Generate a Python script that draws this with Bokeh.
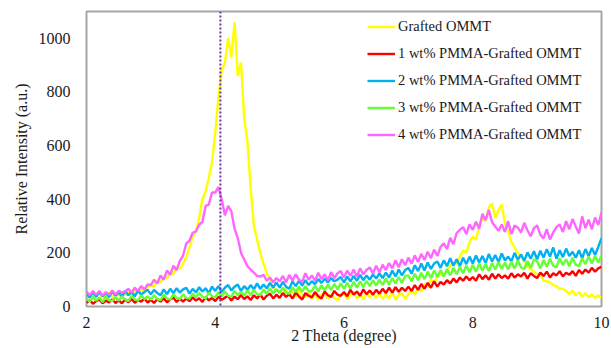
from bokeh.plotting import figure
from bokeh.models import Span, FixedTicker, Range1d, Legend, LegendItem
from bokeh.embed import file_html
from bokeh.resources import INLINE

two_theta = [
    2.00, 2.05, 2.10, 2.15, 2.20, 2.25, 2.30, 2.35, 2.40, 2.45,
    2.50, 2.55, 2.60, 2.65, 2.70, 2.75, 2.80, 2.85, 2.90, 2.95,
    3.00, 3.05, 3.10, 3.15, 3.20, 3.25, 3.30, 3.35, 3.40, 3.45,
    3.50, 3.55, 3.60, 3.65, 3.70, 3.75, 3.80, 3.85, 3.90, 3.95,
    4.00, 4.05, 4.10, 4.15, 4.20, 4.25, 4.30, 4.35, 4.40, 4.45,
    4.50, 4.55, 4.60, 4.65, 4.70, 4.75, 4.80, 4.85, 4.90, 4.95,
    5.00, 5.05, 5.10, 5.15, 5.20, 5.25, 5.30, 5.35, 5.40, 5.45,
    5.50, 5.55, 5.60, 5.65, 5.70, 5.75, 5.80, 5.85, 5.90, 5.95,
    6.00, 6.05, 6.10, 6.15, 6.20, 6.25, 6.30, 6.35, 6.40, 6.45,
    6.50, 6.55, 6.60, 6.65, 6.70, 6.75, 6.80, 6.85, 6.90, 6.95,
    7.00, 7.05, 7.10, 7.15, 7.20, 7.25, 7.30, 7.35, 7.40, 7.45,
    7.50, 7.55, 7.60, 7.65, 7.70, 7.75, 7.80, 7.85, 7.90, 7.95,
    8.00, 8.05, 8.10, 8.15, 8.20, 8.25, 8.30, 8.35, 8.40, 8.45,
    8.50, 8.55, 8.60, 8.65, 8.70, 8.75, 8.80, 8.85, 8.90, 8.95,
    9.00, 9.05, 9.10, 9.15, 9.20, 9.25, 9.30, 9.35, 9.40, 9.45,
    9.50, 9.55, 9.60, 9.65, 9.70, 9.75, 9.80, 9.85, 9.90, 9.95,
    10.00,
]

grafted_ommt = [
    48, 34, 50, 38, 53, 33, 47, 51, 36, 49,
    40, 53, 42, 56, 45, 61, 50, 66, 55, 72,
    80, 75, 95, 90, 110, 105, 125, 120, 145, 140,
    160, 185, 220, 260, 280, 330, 400, 430, 480, 540,
    650, 780, 880, 910, 1000, 930, 1060, 860, 910, 700,
    615, 440, 300, 250, 200, 160, 125, 95, 72, 60,
    58, 44, 66, 40, 56, 36, 62, 42, 34, 54,
    30, 48, 26, 44, 52, 29, 46, 32, 24, 44,
    48, 28, 42, 54, 31, 46, 26, 50, 34, 48,
    32, 52, 27, 46, 31, 54, 25, 44, 49, 30,
    46, 58, 44, 68, 56, 84, 72, 102, 86, 114,
    120, 115, 135, 150, 165, 160, 185, 210, 200, 240,
    260, 250, 300, 330, 320, 370, 385, 330, 360, 380,
    310, 280, 240, 220, 200, 185, 170, 150, 140, 130,
    118, 124, 96, 94, 90, 80, 76, 66, 66, 58,
    46, 60, 42, 54, 36, 50, 34, 46, 32, 42,
    32,
]

pmma_1wt = [
    14, 24, 10, 20, 26, 12, 22, 15, 27, 13,
    23, 12, 26, 16, 28, 14, 24, 18, 30, 15,
    25, 13, 28, 18, 31, 16, 26, 33, 17, 29,
    18, 30, 20, 34, 22, 31, 17, 35, 23, 32,
    20, 36, 25, 33, 40, 22, 37, 27, 43, 28,
    38, 24, 42, 30, 46, 26, 40, 48, 30, 44,
    32, 50, 36, 46, 30, 52, 38, 26, 50, 40,
    34, 54, 38, 30, 56, 42, 36, 58, 44, 40,
    54, 38, 62, 44, 56, 40, 64, 46, 60, 44,
    62, 48, 66, 50, 70, 52, 72, 55, 70, 58,
    74, 58, 80, 62, 84, 66, 88, 70, 94, 74,
    92, 82, 98, 86, 104, 90, 108, 96, 112, 98,
    110, 96, 120, 102, 116, 100, 122, 104, 120, 106,
    116, 104, 124, 108, 120, 112, 126, 104, 124, 114,
    106, 126, 114, 130, 108, 124, 116, 132, 112, 126,
    118, 132, 114, 136, 122, 138, 126, 144, 130, 142,
    148,
]

pmma_2wt = [
    48, 34, 52, 36, 54, 38, 50, 35, 56, 40,
    52, 37, 58, 42, 55, 38, 60, 44, 54, 62,
    45, 62, 50, 42, 64, 46, 66, 50, 68, 52,
    64, 70, 48, 66, 52, 72, 56, 68, 50, 74,
    58, 76, 54, 70, 80, 60, 74, 82, 58, 76,
    62, 80, 64, 86, 66, 82, 68, 88, 70, 90,
    70, 92, 74, 66, 94, 76, 96, 78, 98, 80,
    94, 84, 102, 88, 104, 90, 106, 94, 100, 110,
    90, 112, 94, 114, 96, 118, 98, 116, 100, 120,
    104, 124, 106, 126, 108, 134, 112, 138, 116, 136,
    144, 122, 154, 132, 160, 134, 164, 140, 160, 168,
    144, 172, 150, 180, 152, 176, 150, 182, 158, 186,
    160, 190, 164, 188, 162, 196, 168, 192, 166, 198,
    172, 186, 168, 200, 174, 194, 170, 202, 178, 206,
    176, 208, 182, 214, 186, 220, 178, 210, 184, 216,
    188, 204, 182, 210, 180, 214, 188, 218, 192, 222,
    255,
]

pmma_3wt = [
    30, 18, 36, 22, 34, 16, 38, 24, 20, 35,
    22, 38, 26, 20, 40, 27, 22, 42, 28, 38,
    26, 42, 28, 24, 44, 30, 26, 46, 32, 28,
    46, 32, 30, 48, 34, 50, 36, 30, 52, 38,
    34, 54, 38, 56, 40, 36, 58, 42, 55, 40,
    60, 42, 62, 46, 42, 64, 46, 68, 48, 64,
    50, 70, 52, 48, 72, 54, 74, 55, 76, 56,
    58, 78, 56, 80, 60, 82, 62, 84, 64, 86,
    66, 88, 68, 92, 70, 94, 72, 96, 76, 98,
    78, 100, 80, 104, 82, 106, 86, 110, 88, 114,
    116, 94, 122, 98, 126, 102, 130, 106, 134, 110,
    136, 112, 140, 116, 144, 120, 148, 124, 152, 128,
    156, 130, 160, 134, 158, 132, 162, 138, 166, 140,
    164, 138, 168, 142, 172, 146, 140, 170, 144, 176,
    168, 142, 174, 148, 178, 152, 146, 180, 154, 176,
    150, 182, 156, 150, 180, 158, 186, 160, 188, 164,
    190,
]

pmma_4wt = [
    56, 42, 58, 44, 58, 40, 54, 43, 60, 45,
    58, 52, 56, 66, 52, 70, 58, 76, 64, 82,
    80, 100, 86, 116, 100, 134, 118, 152, 136, 170,
    190, 235, 245, 275, 280, 305, 315, 375, 380, 425,
    425, 445, 400, 340, 375, 355, 290, 255, 200, 175,
    150, 138, 126, 114, 112, 118, 96, 108, 90, 106,
    94, 114, 90, 118, 96, 120, 100, 92, 124, 100,
    116, 96, 126, 102, 120, 98, 128, 106, 124, 132,
    108, 134, 114, 138, 112, 142, 120, 136, 146, 122,
    152, 128, 156, 136, 162, 142, 172, 146, 176, 154,
    182, 160, 190, 166, 196, 174, 204, 180, 212, 188,
    222, 236, 214, 256, 232, 274, 286, 296, 270, 306,
    286, 316, 290, 346, 322, 360, 314, 298, 282, 306,
    278, 318, 270, 302, 294, 276, 312, 284, 262, 292,
    302, 268, 254, 288, 250, 276, 296, 306, 278, 318,
    288, 326, 298, 272, 336, 292, 324, 288, 332, 304,
    350,
]

series_names = [
    "Grafted OMMT",
    "1 wt% PMMA-Grafted OMMT",
    "2 wt% PMMA-Grafted OMMT",
    "3 wt% PMMA-Grafted OMMT",
    "4 wt% PMMA-Grafted OMMT",
]
series_values = [grafted_ommt, pmma_1wt, pmma_2wt, pmma_3wt, pmma_4wt]
series_colors = ["#FFFF00", "#FF0000", "#00B0F0", "#66FF33", "#FF66FF"]

x_ticks = [2, 4, 6, 8, 10]
y_ticks = [0, 200, 400, 600, 800, 1000]
marker_position = 4.08

FONT = "Liberation Serif"

p = figure(
    width=611, height=348, output_backend="svg", toolbar_location=None,
    x_range=Range1d(2, 10), y_range=Range1d(0, 1100),
    min_border_left=86, min_border_right=10, min_border_top=11, min_border_bottom=42,
    background_fill_color="white", border_fill_color="white",
)
p.xgrid.visible = False
p.ygrid.visible = False
p.outline_line_color = "#A6A6A6"
p.outline_line_width = 2

for ax in (p.xaxis[0], p.yaxis[0]):
    ax.axis_line_color = None
    ax.major_tick_line_color = None
    ax.minor_tick_line_color = None
    ax.major_tick_in = 0
    ax.major_tick_out = 0
    ax.major_label_text_font = FONT
    ax.major_label_text_font_size = "16px"
    ax.major_label_text_color = "#1a1a1a"
    ax.axis_label_text_font = FONT
    ax.axis_label_text_font_size = "16px"
    ax.axis_label_text_font_style = "normal"
    ax.axis_label_text_color = "#1a1a1a"

p.xaxis.ticker = FixedTicker(ticks=x_ticks)
p.yaxis.ticker = FixedTicker(ticks=y_ticks)
p.xaxis.major_label_standoff = 10
p.yaxis.major_label_standoff = 16
p.yaxis.axis_label = "Relative Intensity (a.u.)"
p.yaxis.axis_label_standoff = 6
p.xaxis.axis_label = "2 Theta (degree)"
p.xaxis.axis_label_standoff = -4

items = []
for name, vals, col in zip(series_names, series_values, series_colors):
    r = p.line(two_theta, vals, line_color=col, line_width=2.4)
    items.append(LegendItem(label=name, renderers=[r]))

p.add_layout(Span(location=marker_position, dimension="height",
                  line_color="#7030A0", line_dash="2 2", line_width=2))

legend = Legend(items=items, location=(281, 158), padding=0, margin=0, spacing=0,
                label_height=27, glyph_height=27, glyph_width=28, label_standoff=3,
                label_text_font=FONT, label_text_font_size="14.5px",
                label_text_color="#1a1a1a",
                background_fill_alpha=0, border_line_alpha=0)
p.add_layout(legend, "center")

open("out.html", "w").write(file_html(p, INLINE))
